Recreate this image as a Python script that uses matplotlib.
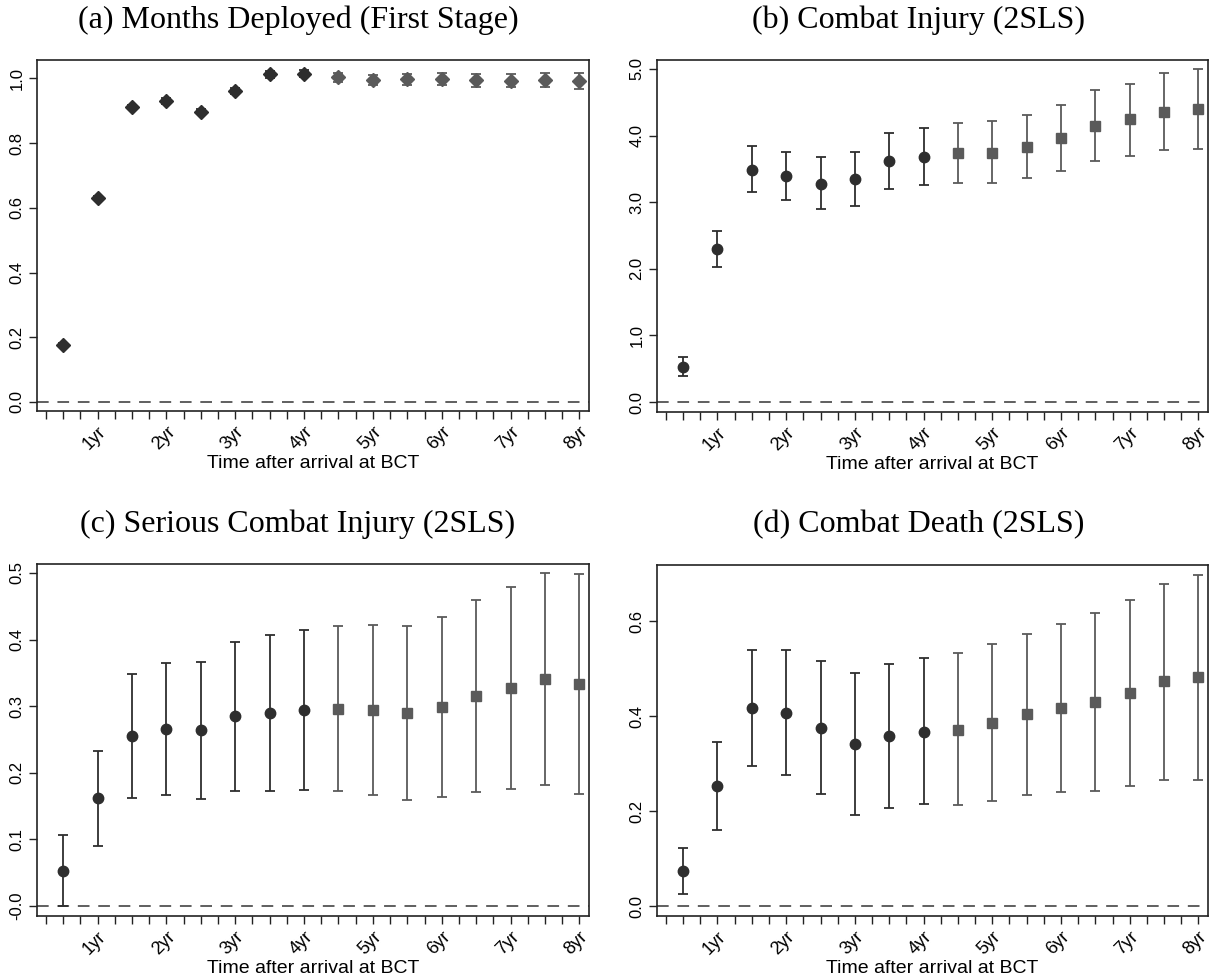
import numpy as np
import matplotlib
matplotlib.use("Agg")
import matplotlib.pyplot as plt

plt.rcParams["font.family"] = ["Liberation Sans", "DejaVu Sans"]

# half-year horizons after arrival at BCT
years = [0.5, 1.0, 1.5, 2.0, 2.5, 3.0, 3.5, 4.0, 4.5, 5.0, 5.5, 6.0, 6.5, 7.0, 7.5, 8.0]
year_labels = ["1yr", "2yr", "3yr", "4yr", "5yr", "6yr", "7yr", "8yr"]

# (a) months deployed, first stage
months_est = [0.177, 0.631, 0.912, 0.930, 0.897, 0.962, 1.013, 1.015,
              1.003, 0.995, 0.997, 0.998, 0.995, 0.993, 0.995, 0.993]
months_lo = [0.173, 0.626, 0.905, 0.922, 0.889, 0.953, 1.002, 1.003,
             0.988, 0.980, 0.980, 0.980, 0.975, 0.972, 0.972, 0.968]
months_hi = [0.181, 0.636, 0.919, 0.938, 0.905, 0.971, 1.024, 1.027,
             1.018, 1.010, 1.014, 1.016, 1.015, 1.014, 1.018, 1.018]

# (b) combat injury, 2SLS
injury_est = [0.526, 2.29, 3.49, 3.397, 3.28, 3.347, 3.622, 3.682,
              3.742, 3.742, 3.833, 3.968, 4.148, 4.243, 4.359, 4.394]
injury_lo = [0.386, 2.024, 3.151, 3.031, 2.90, 2.946, 3.20, 3.257,
             3.29, 3.287, 3.362, 3.472, 3.622, 3.697, 3.783, 3.798]
injury_hi = [0.676, 2.565, 3.838, 3.757, 3.672, 3.752, 4.043, 4.118,
             4.188, 4.213, 4.314, 4.459, 4.679, 4.78, 4.945, 4.995]

# (c) serious combat injury, 2SLS
serious_est = [0.053, 0.162, 0.2555, 0.2655, 0.2636, 0.2846, 0.290, 0.294,
               0.2957, 0.294, 0.2897, 0.2987, 0.3153, 0.3273, 0.341, 0.3338]
serious_lo = [0.0, 0.090, 0.162, 0.167, 0.1606, 0.172, 0.172, 0.1747,
              0.172, 0.167, 0.1596, 0.164, 0.1717, 0.176, 0.182, 0.1687]
serious_hi = [0.107, 0.233, 0.349, 0.3645, 0.366, 0.397, 0.4076, 0.4137,
              0.420, 0.4217, 0.420, 0.4337, 0.4598, 0.4794, 0.500, 0.498]

# (d) combat death, 2SLS
death_est = [0.0739, 0.2532, 0.4185, 0.408, 0.3763, 0.3411, 0.3587, 0.3679,
             0.372, 0.3855, 0.4044, 0.417, 0.4298, 0.4488, 0.474, 0.4825]
death_lo = [0.0246, 0.1597, 0.296, 0.2764, 0.237, 0.1927, 0.2068, 0.2152,
            0.2124, 0.2216, 0.235, 0.2406, 0.2427, 0.2539, 0.2666, 0.2666]
death_hi = [0.123, 0.3468, 0.540, 0.5395, 0.5156, 0.491, 0.5107, 0.522,
            0.5325, 0.5515, 0.5733, 0.5944, 0.6169, 0.6443, 0.6795, 0.6985]

panels = [
    dict(title="(a) Months Deployed (First Stage)", est=months_est, lo=months_lo, hi=months_hi,
         ylim=(-0.028, 1.057), yticks=[0.0, 0.2, 0.4, 0.6, 0.8, 1.0],
         ylabels=["0.0", "0.2", "0.4", "0.6", "0.8", "1.0"], markers=("D", "D"),
         pos=(37, 60, 589, 411), tx=298),
    dict(title="(b) Combat Injury (2SLS)", est=injury_est, lo=injury_lo, hi=injury_hi,
         ylim=(-0.15, 5.135), yticks=[0, 1, 2, 3, 4, 5],
         ylabels=["0.0", "1.0", "2.0", "3.0", "4.0", "5.0"], markers=("o", "s"),
         pos=(657, 60, 1208, 412), tx=919),
    dict(title="(c) Serious Combat Injury (2SLS)", est=serious_est, lo=serious_lo, hi=serious_hi,
         ylim=(-0.015, 0.5135), yticks=[0.0, 0.1, 0.2, 0.3, 0.4, 0.5],
         ylabels=["-0.0", "0.1", "0.2", "0.3", "0.4", "0.5"], markers=("o", "s"),
         pos=(37, 564, 589, 916), tx=298),
    dict(title="(d) Combat Death (2SLS)", est=death_est, lo=death_lo, hi=death_hi,
         ylim=(-0.021, 0.719), yticks=[0.0, 0.2, 0.4, 0.6],
         ylabels=["0.0", "0.2", "0.4", "0.6"], markers=("o", "s"),
         pos=(657, 565, 1208, 916), tx=919),
]

W, H = 1210, 975
fig = plt.figure(figsize=(W / 100, H / 100), dpi=100)

dark = "#2e2e2e"
grey = "#5a5a5a"
quarter_ticks = np.arange(0.25, 8.01, 0.25)
quarter_labels = [year_labels[int(t) - 1] if t == int(t) else "" for t in quarter_ticks]

for p in panels:
    x0, y0, x1, y1 = p["pos"]
    ax = fig.add_axes([x0 / W, 1 - y1 / H, (x1 - x0) / W, (y1 - y0) / H])
    est = np.array(p["est"])
    err = np.vstack([est - np.array(p["lo"]), np.array(p["hi"]) - est])
    x = np.array(years)
    first, second = slice(0, 8), slice(8, 16)
    ax.axhline(0, color="#5f5f5f", lw=1.4, linestyle=(0, (6, 4.5)), zorder=1)
    for sl, col, mk in [(first, dark, p["markers"][0]), (second, grey, p["markers"][1])]:
        ax.errorbar(x[sl], est[sl], yerr=err[:, sl], fmt=mk, color=col, ecolor=col,
                    markersize=7.5 if mk != "D" else 7, elinewidth=1.3, capsize=3.5,
                    capthick=1.3, zorder=3)
    ax.set_xlim(0.12, 8.14)
    ax.set_ylim(*p["ylim"])
    ax.set_xticks(quarter_ticks)
    ax.set_xticklabels(quarter_labels, rotation=45, ha="right", va="top",
                       rotation_mode="anchor", fontsize=13)
    ax.set_yticks(p["yticks"])
    ax.set_yticklabels(p["ylabels"], rotation=90, va="center", fontsize=12)
    ax.tick_params(length=6, width=1.0, color="#222222", pad=3)
    for s in ax.spines.values():
        s.set_color("#222222")
        s.set_linewidth(1.2)
    ax.set_xlabel("Time after arrival at BCT", fontsize=14, labelpad=1)
    fig.text(p["tx"] / W, 1 - (y0 - 40) / H, p["title"], ha="center", va="center",
             fontsize=23, family="Liberation Serif")

fig.savefig("out.png", dpi=100)
